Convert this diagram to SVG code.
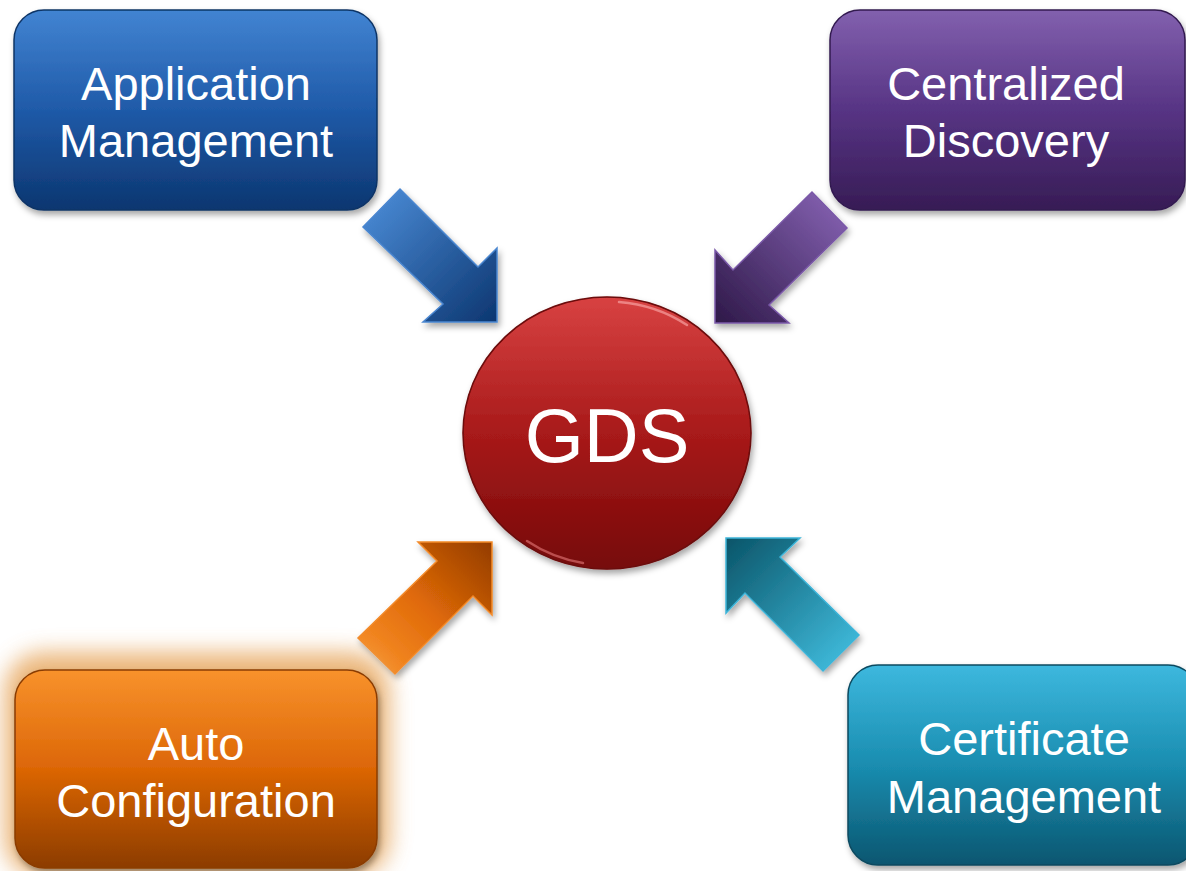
<svg xmlns="http://www.w3.org/2000/svg" width="1186" height="871" viewBox="0 0 1186 871">
<defs>
<linearGradient id="gBlue" x1="0" y1="0" x2="0" y2="1"><stop offset="0" stop-color="#4284d2"/><stop offset="0.5" stop-color="#1f5aa8"/><stop offset="1" stop-color="#0c3670"/></linearGradient>
<linearGradient id="gPurple" x1="0" y1="0" x2="0" y2="1"><stop offset="0" stop-color="#8260ae"/><stop offset="0.5" stop-color="#573484"/><stop offset="1" stop-color="#371c55"/></linearGradient>
<linearGradient id="gOrange" x1="0" y1="0" x2="0" y2="1"><stop offset="0" stop-color="#f8922c"/><stop offset="0.5" stop-color="#dc6606"/><stop offset="1" stop-color="#8c3c04"/></linearGradient>
<linearGradient id="gTeal" x1="0" y1="0" x2="0" y2="1"><stop offset="0" stop-color="#3db8de"/><stop offset="0.5" stop-color="#1a8db0"/><stop offset="1" stop-color="#0b5670"/></linearGradient>
<linearGradient id="gRed" x1="0" y1="0" x2="0" y2="1"><stop offset="0" stop-color="#d84242"/><stop offset="0.5" stop-color="#a81a1a"/><stop offset="1" stop-color="#760808"/></linearGradient>
<linearGradient id="aBlue" x1="0" y1="0" x2="1" y2="1"><stop offset="0" stop-color="#4e90dc"/><stop offset="1" stop-color="#0c3670"/></linearGradient>
<linearGradient id="aPurple" x1="1" y1="0" x2="0" y2="1"><stop offset="0" stop-color="#8a66b8"/><stop offset="1" stop-color="#2e1848"/></linearGradient>
<linearGradient id="aOrange" x1="0" y1="1" x2="1" y2="0"><stop offset="0" stop-color="#fc9630"/><stop offset="0.5" stop-color="#e06a08"/><stop offset="1" stop-color="#933c00"/></linearGradient>
<linearGradient id="aTeal" x1="1" y1="1" x2="0" y2="0"><stop offset="0" stop-color="#44c4e6"/><stop offset="1" stop-color="#0a5468"/></linearGradient>
<filter id="sh" x="-10%" y="-10%" width="125%" height="130%"><feDropShadow dx="2" dy="4" stdDeviation="3" flood-color="#000" flood-opacity="0.35"/></filter>
<filter id="glow" x="-20%" y="-30%" width="140%" height="160%"><feGaussianBlur stdDeviation="11"/></filter>
</defs>
<style>
.lbl{font-family:"Liberation Sans",Arial,sans-serif;fill:#fff;text-anchor:middle;font-size:47px}
.box{stroke-width:1.5}
.arr{stroke-width:1.5}
.hl{fill:none;stroke-width:2.5;stroke-linecap:round}
</style>
<rect width="1186" height="871" fill="#fff"/>
<g id="connectors">
<polygon class="arr" filter="url(#sh)" fill="url(#aBlue)" stroke="#4a86d0" points="400,189 478,267 497,248 497,322 423,322 443,304 363,227"/>
<polygon class="arr" filter="url(#sh)" fill="url(#aPurple)" stroke="#7a58a8" points="812,192 733,270 715,250 715,323 789,323 769,305 847,228"/>
<polygon class="arr" filter="url(#sh)" fill="url(#aOrange)" stroke="#f28a2a" points="492,542 418,542 437,561 358,638 395,674 473,596 492,615"/>
<polygon class="arr" filter="url(#sh)" fill="url(#aTeal)" stroke="#3cb4d8" points="726,538 800,538 780,557 859,635 823,671 745,593 726,613"/>
</g>
<g id="node-app">
<rect class="box" x="14" y="10" width="363" height="200" rx="30" fill="url(#gBlue)" stroke="#0d3466" filter="url(#sh)"/>
<text class="lbl" x="196" y="100">Application</text>
<text class="lbl" x="196" y="157">Management</text>
</g>
<g id="node-disc">
<rect class="box" x="830" y="10" width="355" height="200" rx="30" fill="url(#gPurple)" stroke="#331a50" filter="url(#sh)"/>
<text class="lbl" x="1006" y="100">Centralized</text>
<text class="lbl" x="1006" y="157">Discovery</text>
</g>
<g id="node-auto">
<rect x="4" y="652" width="386" height="226" rx="40" fill="#e6a45a" opacity="0.8" filter="url(#glow)"/>
<rect class="box" x="15" y="670" width="362" height="198" rx="30" fill="url(#gOrange)" stroke="#8a3c06" filter="url(#sh)"/>
<text class="lbl" x="196" y="760">Auto</text>
<text class="lbl" x="196" y="817">Configuration</text>
</g>
<g id="node-cert">
<rect class="box" x="848" y="665" width="350" height="200" rx="30" fill="url(#gTeal)" stroke="#0a4a60" filter="url(#sh)"/>
<text class="lbl" x="1024" y="755">Certificate</text>
<text class="lbl" x="1024" y="813">Management</text>
</g>
<g id="node-gds">
<ellipse cx="607" cy="433" rx="144" ry="136" fill="url(#gRed)" stroke="#6a0808" stroke-width="1.5" filter="url(#sh)"/>
<path class="hl" d="M 619 302 A 140 132 0 0 1 687 325" stroke="#f49a9a" opacity="0.75"/>
<path class="hl" d="M 527 541 A 140 132 0 0 0 583 563" stroke="#e47a7a" opacity="0.6"/>
<text x="607" y="462" font-family="Liberation Sans, Arial, sans-serif" font-size="76" fill="#fff" text-anchor="middle">GDS</text>
</g>
</svg>
